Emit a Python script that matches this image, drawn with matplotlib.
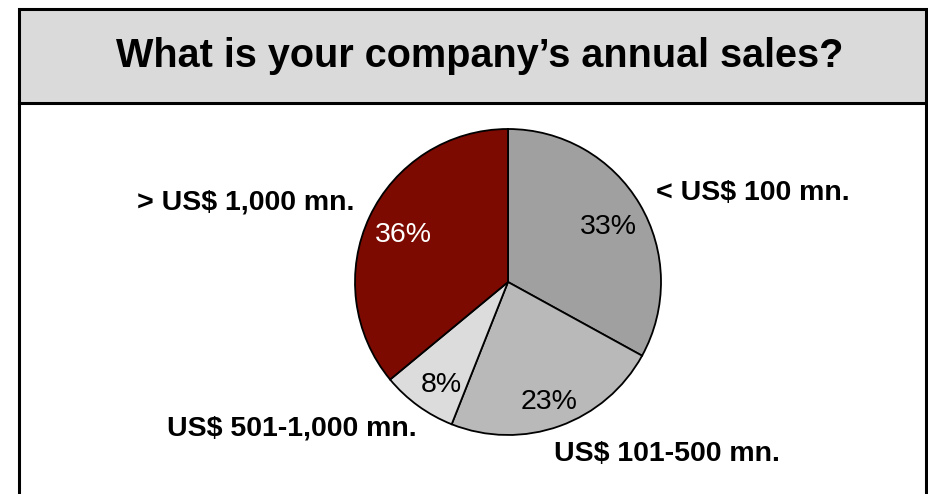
import matplotlib.pyplot as plt
from matplotlib.patches import Rectangle
import numpy as np

plt.rcParams['font.family'] = ['Liberation Sans', 'DejaVu Sans']

title = "What is your company\u2019s annual sales?"
categories = ["< US$ 100 mn.", "US$ 101-500 mn.", "US$ 501-1,000 mn.", "> US$ 1,000 mn."]
shares = [33, 23, 8, 36]
colors = ["#a0a0a0", "#b9b9b9", "#dcdcdc", "#7d0a00"]
pct_colors = ["black", "black", "black", "white"]
pct_radius = [0.75, 0.83, 0.80, 0.75]
pct_turn = [-2, -1, 3, 1]  # small angular nudges (degrees) for the % labels

W, H = 929, 494
fig = plt.figure(figsize=(W / 100, H / 100), dpi=100)


def px(x, y):
    # pixel position (from top-left) -> figure fraction
    return x / W, 1 - y / H


# frame: grey title band and white body below it
x0, x1 = 19, 926
ytop, ymid = 9, 103
fig.patches.append(Rectangle(px(x0, ymid), (x1 - x0) / W, (ymid - ytop) / H,
                             transform=fig.transFigure, facecolor="#dadada",
                             edgecolor="black", linewidth=2.2, zorder=0))
fig.add_artist(plt.Line2D([x0 / W, x0 / W], [0, 1 - ymid / H], color="black", lw=2.2))
fig.add_artist(plt.Line2D([x1 / W, x1 / W], [0, 1 - ymid / H], color="black", lw=2.2))

fig.text(*px(480, 56), title, ha="center", va="center", fontsize=28.5, fontweight="bold")

# pie
cx, cy, r = 508, 282, 153
ax = fig.add_axes([(cx - r) / W, (H - cy - r) / H, 2 * r / W, 2 * r / H])
wedges, _ = ax.pie(shares, colors=colors, startangle=90, counterclock=False, radius=1,
                   wedgeprops=dict(edgecolor="black", linewidth=1.3))
ax.set_xlim(-1, 1)
ax.set_ylim(-1, 1)
ax.set_aspect("equal")
ax.axis("off")

for w, s, c, rr, dt in zip(wedges, shares, pct_colors, pct_radius, pct_turn):
    mid = np.deg2rad((w.theta1 + w.theta2) / 2 + dt)
    ax.text(rr * np.cos(mid), rr * np.sin(mid), f"{s}%", ha="center", va="center",
            fontsize=20.5, color=c)

# category labels around the pie
label_pos = {
    "< US$ 100 mn.": (753, 193),
    "US$ 101-500 mn.": (667, 454),
    "US$ 501-1,000 mn.": (292, 428),
    "> US$ 1,000 mn.": (246, 202),
}
for name in categories:
    fig.text(*px(*label_pos[name]), name, ha="center", va="center",
             fontsize=20.5, fontweight="bold")

fig.savefig("out.png", dpi=100)
